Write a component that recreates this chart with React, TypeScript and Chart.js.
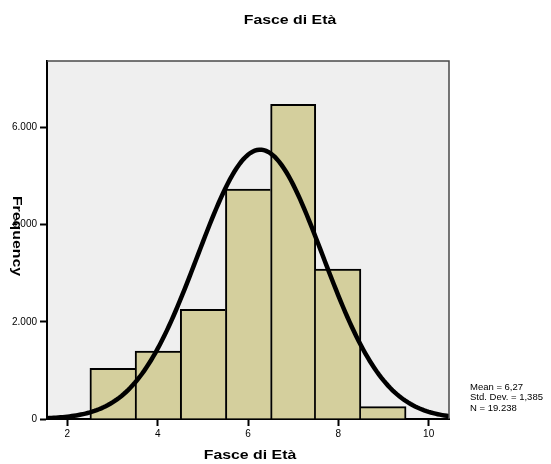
import React, { useEffect, useRef } from "react";
import { Chart, registerables } from "chart.js";

Chart.register(...registerables);

// Histogram bins (class centre) and their frequencies
const binCenters = [3, 4, 5, 6, 7, 8, 9];
const frequencies = [1040, 1400, 2255, 4730, 6475, 3085, 253];

// Summary statistics shown beside the plot
const mean = 6.27;
const stdDev = 1.385;
const sampleSize = 19238;
const binWidth = 1;
const statLines = ["Mean = 6,27", "Std. Dev. = 1,385", "N = 19.238"];

// Axis ticks and ranges
const xTicks = [2, 4, 6, 8, 10];
const yTicks = [0, 2000, 4000, 6000];
const xMin = 1.55;
const xMax = 10.45;
const yMax = 7366;

const titleText = "Fasce di Età";
const xTitleText = "Fasce di Età";
const yTitleText = "Frequency";

const FONT = "Arial, 'Liberation Sans', Helvetica, sans-serif";

// Fitted normal curve scaled to the histogram counts
const curveStep = 0.05;
const curveXs: number[] = [];
for (let x = xMin; x <= xMax + 1e-9; x += curveStep) curveXs.push(+x.toFixed(3));
const normalCurve = curveXs.map((x) => {
  const z = (x - mean) / stdDev;
  const y = (sampleSize * binWidth * Math.exp(-0.5 * z * z)) / (stdDev * Math.sqrt(2 * Math.PI));
  return { x, y };
});

const formatThousands = (v: number) =>
  String(Math.round(v)).replace(/\B(?=(\d{3})+(?!\d))/g, ".");

function drawStretched(
  ctx: CanvasRenderingContext2D,
  text: string,
  x: number,
  y: number,
  angle: number,
  stretch: number
) {
  ctx.save();
  ctx.translate(x, y);
  ctx.rotate(angle);
  ctx.scale(stretch, 1);
  ctx.fillText(text, 0, 0);
  ctx.restore();
}

const decorPlugin = {
  id: "decor",
  beforeDraw(chart: any) {
    const { ctx, chartArea } = chart;
    ctx.save();
    ctx.fillStyle = "#ffffff";
    ctx.fillRect(0, 0, chart.width, chart.height);
    ctx.fillStyle = "#efefef";
    ctx.fillRect(
      chartArea.left,
      chartArea.top,
      chartArea.right - chartArea.left,
      chartArea.bottom - chartArea.top
    );
    ctx.restore();
  },
  afterDraw(chart: any) {
    const { ctx, chartArea } = chart;
    ctx.save();
    // top and right frame
    ctx.strokeStyle = "#4a4a4a";
    ctx.lineWidth = 1.5;
    ctx.beginPath();
    ctx.moveTo(chartArea.left, chartArea.top);
    ctx.lineTo(chartArea.right, chartArea.top);
    ctx.lineTo(chartArea.right, chartArea.bottom);
    ctx.stroke();

    ctx.fillStyle = "#000";
    ctx.textAlign = "center";
    ctx.textBaseline = "middle";
    ctx.font = `bold 13px ${FONT}`;
    drawStretched(ctx, titleText, 290, 20, 0, 1.22);
    drawStretched(ctx, xTitleText, 250, 455, 0, 1.22);
    drawStretched(ctx, yTitleText, 17, 236, Math.PI / 2, 1.22);

    ctx.font = `9.5px ${FONT}`;
    ctx.textAlign = "left";
    statLines.forEach((line, i) => {
      ctx.fillText(line, 470, 387 + i * 10.5);
    });
    ctx.restore();
  },
};

export default function App() {
  const canvasRef = useRef<HTMLCanvasElement | null>(null);

  useEffect(() => {
    if (!canvasRef.current) return;
    const last = frequencies.length - 1;
    const chart = new Chart(canvasRef.current, {
      type: "bar",
      data: {
        datasets: [
          {
            type: "line",
            data: normalCurve,
            borderColor: "#000000",
            borderWidth: 4.5,
            pointRadius: 0,
            tension: 0,
            fill: false,
            clip: 0,
            order: 0,
          } as any,
          {
            type: "bar",
            data: binCenters.map((c, i) => ({ x: c, y: frequencies[i] })),
            backgroundColor: "#d4cf9d",
            borderColor: "#000000",
            borderWidth: (c: any) => {
              const i = c.dataIndex;
              const h = frequencies;
              return {
                top: 2,
                bottom: 0,
                left: i === 0 || h[i - 1] < h[i] ? 2 : 0,
                right: i === last || h[i + 1] <= h[i] ? 2 : 0,
              };
            },
            borderSkipped: false,
            barPercentage: 1,
            categoryPercentage: 1,
            order: 1,
          } as any,
        ],
      },
      options: {
        responsive: false,
        animation: false,
        events: [],
        layout: { padding: { top: 61, right: 102, left: 0, bottom: 0 } },
        scales: {
          x: {
            type: "linear",
            min: xMin,
            max: xMax,
            offset: false,
            afterFit: (s: any) => {
              s.height = 45;
            },
            afterBuildTicks: (s: any) => {
              s.ticks = xTicks.map((v) => ({ value: v }));
            },
            grid: {
              offset: false,
              drawOnChartArea: false,
              drawTicks: true,
              tickLength: 7,
              tickWidth: 2,
              tickColor: "#000",
            },
            border: { display: true, color: "#000", width: 2 },
            ticks: {
              color: "#000",
              font: { family: FONT, size: 10 },
              padding: 2,
              maxRotation: 0,
              autoSkip: false,
              callback: (v: any) => String(v),
            },
          },
          y: {
            type: "linear",
            min: 0,
            max: yMax,
            afterFit: (s: any) => {
              s.width = 47;
            },
            afterBuildTicks: (s: any) => {
              s.ticks = yTicks.map((v) => ({ value: v }));
            },
            grid: {
              drawOnChartArea: false,
              drawTicks: true,
              tickLength: 7,
              tickWidth: 2,
              tickColor: "#000",
            },
            border: { display: true, color: "#000", width: 2 },
            ticks: {
              color: "#000",
              font: { family: FONT, size: 10 },
              padding: 3,
              autoSkip: false,
              callback: (v: any) => formatThousands(Number(v)),
            },
          },
        },
        plugins: {
          legend: { display: false },
          tooltip: { enabled: false },
          title: { display: false },
        },
      },
      plugins: [decorPlugin],
    });
    return () => chart.destroy();
  }, []);

  return (
    <div style={{ position: "fixed", left: 0, top: 0, width: 551, height: 464, background: "#fff" }}>
      <canvas ref={canvasRef} width={551} height={464} />
    </div>
  );
}
